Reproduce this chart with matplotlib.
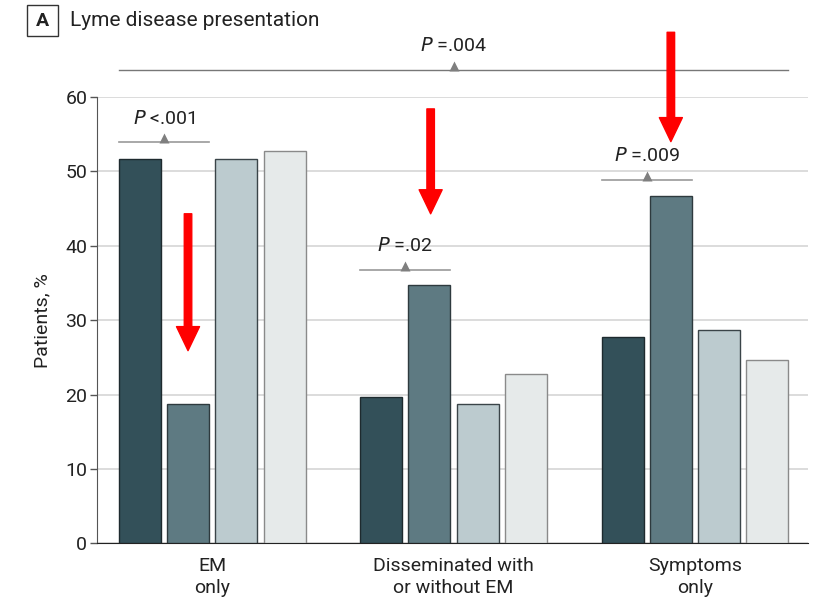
import numpy as np
import matplotlib
matplotlib.use('Agg')
import matplotlib.pyplot as plt
from matplotlib.patches import FancyArrowPatch, ArrowStyle, Rectangle

plt.rcParams['font.family'] = ['Roboto', 'DejaVu Sans']

# data
groups = ['EM\nonly', 'Disseminated with\nor without EM', 'Symptoms\nonly']
series1 = [51.7, 19.7, 27.7]
series2 = [18.7, 34.7, 46.7]
series3 = [51.7, 18.7, 28.7]
series4 = [52.7, 22.7, 24.7]
yticks = [0, 10, 20, 30, 40, 50, 60]

# p-value brackets: (text, group, line y, text y) - bracket spans bars 1-2 of the group
brackets = [('<.001', 0, 53.9, 57.1),
            ('=.02', 1, 36.7, 40.0),
            ('=.009', 2, 48.8, 52.1)]
overall_p = '=.004'

fill = ['#335059', '#5e7a82', '#bccbcf', '#e6eaea']
edge = ['#1e2a2e', '#2e3a3e', '#3a4448', '#8a8a8a']

fig = plt.figure(figsize=(8.13, 6.03), dpi=100)
ax = fig.add_axes([97/813, 1-543.3/603, (808-97)/813, (543.3-97)/603])

x = np.arange(len(groups))
w = 0.174
offs = [-0.3, -0.1, 0.1, 0.3]
all_series = [series1, series2, series3, series4]
for k, s in enumerate(all_series):
    ax.bar(x+offs[k], s, width=w, color=fill[k], edgecolor=edge[k], linewidth=1, zorder=3)

ax.set_xlim(-0.477, 2.468)
ax.set_ylim(0, 60)
ax.set_yticks(yticks)
ax.yaxis.grid(True, color='#d9d9d9', linewidth=1.3, zorder=0)
ax.set_axisbelow(True)
ax.set_xticks(x)
ax.set_xticklabels(groups, fontsize=14, color='#222222', linespacing=1.3)
ax.tick_params(axis='x', length=0, pad=10)
ax.tick_params(axis='y', length=5, width=1, color='#555555', labelsize=14, labelcolor='#222222', pad=2)
for sp in ['top', 'right']:
    ax.spines[sp].set_visible(False)
ax.spines['left'].set_color('#555555')
ax.spines['bottom'].set_color('#222222')
ax.set_ylabel('Patients, %', fontsize=14, color='#222222', labelpad=10)

tri_dy = 0.54
for txt, g, ly, ty in brackets:
    x0, x1 = g+offs[0]-w/2, g+offs[1]+w/2
    xm = (x0+x1)/2
    ax.plot([x0, x1], [ly, ly], color='#999999', lw=1.2, clip_on=False, zorder=4)
    ax.plot(xm, ly+tri_dy, marker='^', ms=7.5, color='#7f7f7f', mec='none', clip_on=False, zorder=4)
    ax.text(xm, ty, r'$\it{P}$ ' + txt, ha='center', va='center', fontsize=14, color='#222222')

x0, x1 = x[0]+offs[0]-w/2, x[-1]+offs[-1]+w/2
ax.plot([x0, x1], [63.6, 63.6], color='#777777', lw=1.0, clip_on=False, zorder=4)
ax.plot((x0+x1)/2, 63.6+tri_dy, marker='^', ms=7.5, color='#7f7f7f', mec='none', clip_on=False, zorder=4)
ax.text((x0+x1)/2, 66.9, r'$\it{P}$ ' + overall_p, ha='center', va='center', fontsize=14, color='#222222')

# red arrows: (x, start y, tip y)
arrows = [(-0.1, 44.3, 25.9), (0.905, 58.4, 44.3), (1.9, 68.7, 54.0)]
style = ArrowStyle.Simple(head_length=17.3, head_width=16.6, tail_width=5.4)
for ax_x, y0, y1 in arrows:
    a = FancyArrowPatch((ax_x, y0), (ax_x, y1), arrowstyle=style, mutation_scale=1,
                        color='#ff0000', shrinkA=0, shrinkB=0, clip_on=False, zorder=6)
    ax.add_patch(a)

# panel label and title
fig.patches.append(Rectangle((27/813, 1-36/603), 31/813, 31/603, transform=fig.transFigure,
                             fill=False, edgecolor='#333333', linewidth=1))
fig.text(42.5/813, 1-20.5/603, 'A', ha='center', va='center', fontsize=14, fontweight='bold', color='#222222')
fig.text(70/813, 1-20.5/603, 'Lyme disease presentation', ha='left', va='center', fontsize=15, color='#222222')

fig.savefig('out.png', dpi=100)
